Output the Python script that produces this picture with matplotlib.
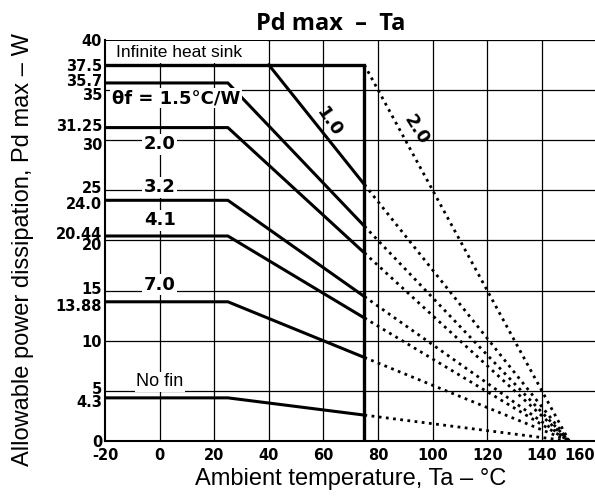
import matplotlib.pyplot as plt
import matplotlib.transforms as mtrans
import numpy as np

# derating curves: (label, flat Pd, knee Ta)
fin_labels = ['1.5', '2.0', '3.2', '4.1', '7.0', 'No fin']
fin_pd = [35.7, 31.25, 24.0, 20.44, 13.88, 4.3]
knee_ta = 25
cut_ta = 75
zero_ta = 150

# 1.0 curve and infinite heat sink
inf_pd = 37.5
one_knee = 40

yticks = [0, 4.3, 5, 10, 13.88, 15, 20, 20.44, 24.0, 25, 30, 31.25, 35, 35.7, 37.5, 40]
ylabels = ['0', '4.3', '5', '10', '13.88', '15', '20', '20.44', '24.0', '25', '30', '31.25', '35', '35.7', '37.5', '40']
xticks = [-20, 0, 20, 40, 60, 80, 100, 120, 140, 160]

def pd_at(p, t0, t):
    return p * (zero_ta - t) / (zero_ta - t0)

fig = plt.figure(figsize=(5.95, 4.98), dpi=100)
ax = fig.add_axes([0.1765, 0.1145, 0.826, 0.8055])
ax.set_xlim(-20, 160)
ax.set_ylim(0, 40)

ax.set_xticks(xticks, [str(v) for v in xticks])
ax.set_yticks(yticks, ylabels)
tick_font = dict(family=['DejaVu Sans Condensed', 'DejaVu Sans'], weight='bold', size=10.5)
for lab in ax.get_xticklabels() + ax.get_yticklabels():
    lab.set(**tick_font)
ax.tick_params(length=0)
ax.tick_params(axis='x', pad=5)
ax.tick_params(axis='y', pad=2)
# last x label sits inside the figure edge
last = ax.get_xticklabels()[-1]
last.set_transform(last.get_transform() + mtrans.ScaledTranslation(-0.17, 0, fig.dpi_scale_trans))
# crowded y labels are staggered a little, as in the print
nudge = {'4.3': -0.03, '5': 0.03, '13.88': -0.03, '15': 0.03, '20': -0.04, '20.44': 0.03,
         '24.0': -0.03, '25': 0.03, '30': -0.04, '31.25': 0.03, '35': -0.04, '35.7': 0.03}
for lab in ax.get_yticklabels():
    dy = nudge.get(lab.get_text(), 0)
    if dy:
        lab.set_transform(lab.get_transform() + mtrans.ScaledTranslation(0, dy, fig.dpi_scale_trans))

# grid
for x in range(0, 161, 20):
    ax.axvline(x, color='black', lw=0.9, zorder=0)
for y in range(5, 41, 5):
    ax.axhline(y, color='black', lw=0.9, zorder=0)
ax.fill_between([-19.5, 39.5], 37.7, 39.85, color='white', lw=0, zorder=0.5)
for s in ['top', 'right']:
    ax.spines[s].set_visible(False)
ax.spines['left'].set_linewidth(1.5)
ax.spines['bottom'].set_linewidth(1.5)

# infinite heat sink
ax.plot([-20, cut_ta, cut_ta], [inf_pd, inf_pd, 0], color='black', lw=2.4, solid_joinstyle='miter')
ax.plot([cut_ta, zero_ta], [inf_pd, 0], color='black', lw=2, ls=(0, (1, 1.6)))

# 1.0
p75 = pd_at(inf_pd, one_knee, cut_ta)
ax.plot([one_knee, cut_ta], [inf_pd, p75], color='black', lw=2.2)
ax.plot([cut_ta, zero_ta], [p75, 0], color='black', lw=2, ls=(0, (1, 1.6)))

for p in fin_pd:
    p75 = pd_at(p, knee_ta, cut_ta)
    ax.plot([-20, knee_ta, cut_ta], [p, p, p75], color='black', lw=2.2)
    ax.plot([cut_ta, zero_ta], [p75, 0], color='black', lw=2, ls=(0, (1, 1.6)))

# labels
lab_font = dict(family=['DejaVu Sans Condensed', 'DejaVu Sans'], weight='bold', size=13)
wbox = dict(facecolor='white', edgecolor='none', pad=1)
ax.text(-16, 38.7, 'Infinite heat sink', fontsize=12.5, family='Liberation Sans', va='center', ha='left')
ax.text(-17.5, 34.2, 'θf = 1.5°C/W', va='center', ha='left', bbox=wbox, **lab_font)
ax.text(0, 29.6, '2.0', va='center', ha='center', bbox=wbox, **lab_font)
ax.text(0, 25.3, '3.2', va='center', ha='center', bbox=wbox, **lab_font)
ax.text(0, 22.0, '4.1', va='center', ha='center', bbox=wbox, **lab_font)
ax.text(0, 15.6, '7.0', va='center', ha='center', bbox=wbox, **lab_font)
ax.text(0, 5.9, 'No fin', fontsize=13, family='Liberation Sans', va='center', ha='center', bbox=wbox)
ax.text(62, 31.8, '1.0', rotation=-55, va='center', ha='center', **lab_font)
ax.text(94, 31.0, '2.0', rotation=-58, va='center', ha='center', **lab_font)

fig.text(0.555, 0.952, 'Pd max  –  Ta', ha='center', va='center', fontsize=17, weight='bold',
         family='Open Sans')
ax.set_xlabel('Ambient temperature, Ta – °C', fontsize=17, family='Liberation Sans', labelpad=4)
fig.text(0.039, 0.498, 'Allowable power dissipation, Pd max – W', rotation=90, ha='center', va='center',
         fontsize=17, family='Liberation Sans')

fig.savefig('out.png', dpi=100)
